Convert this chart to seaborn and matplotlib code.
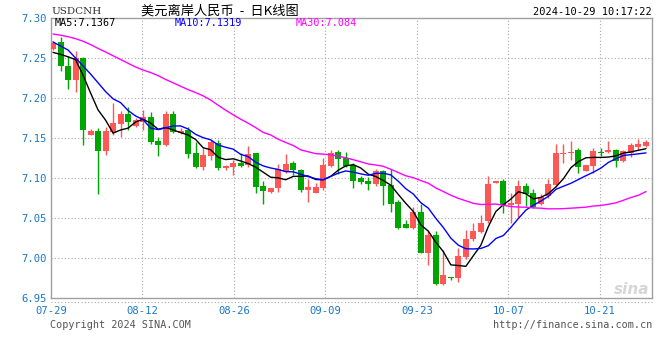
import numpy as np
import pandas as pd
import matplotlib
matplotlib.use('Agg')
import matplotlib.pyplot as plt
import seaborn as sns

# daily bars 07-29 .. 10-29 (sina forex feed, saturday sessions included)
open_ = [7.2616, 7.2700, 7.2400, 7.2225, 7.2500, 7.1538, 7.1588, 7.1341, 7.1579, 7.1675,
         7.1800, 7.1650, 7.1700, 7.1766, 7.1463, 7.1413, 7.1804, 7.1566, 7.1600, 7.1316,
         7.1134, 7.1275, 7.1441, 7.1121, 7.1141, 7.1191, 7.1163, 7.1309, 7.0900, 7.0821,
         7.0871, 7.1079, 7.1191, 7.1100, 7.0850, 7.0816, 7.0879, 7.1154, 7.1321, 7.1246,
         7.1163, 7.0996, 7.0966, 7.0929, 7.1091, 7.0913, 7.0704, 7.0425, 7.0371, 7.0579,
         7.0066, 7.0288, 6.9675, 6.9766, 6.9754, 7.0016, 7.0234, 7.0321, 7.0466, 7.0934,
         7.0963, 7.0663, 7.0675, 7.0900, 7.0816, 7.0675, 7.0775, 7.0913, 7.1300, 7.1309,
         7.1350, 7.1088, 7.1154, 7.1325, 7.1325, 7.1350, 7.1216, 7.1309, 7.1391, 7.1404]
high = [7.2712, 7.2766, 7.2525, 7.2584, 7.2509, 7.1616, 7.1625, 7.1641, 7.1938, 7.1841,
        7.1888, 7.1750, 7.1850, 7.1825, 7.1516, 7.1841, 7.1841, 7.1625, 7.1641, 7.1454,
        7.1371, 7.1475, 7.1475, 7.1159, 7.1225, 7.1316, 7.1400, 7.1316, 7.0963, 7.0871,
        7.1179, 7.1304, 7.1216, 7.1109, 7.0984, 7.0941, 7.1254, 7.1350, 7.1350, 7.1321,
        7.1184, 7.1021, 7.1016, 7.1113, 7.1100, 7.1113, 7.0725, 7.0475, 7.0641, 7.0675,
        7.0341, 7.0341, 7.0100, 6.9766, 7.0121, 7.0350, 7.0434, 7.0538, 7.1025, 7.0963,
        7.0984, 7.0809, 7.0975, 7.0941, 7.0859, 7.0800, 7.0984, 7.1425, 7.1425, 7.1459,
        7.1375, 7.1163, 7.1371, 7.1371, 7.1459, 7.1359, 7.1350, 7.1434, 7.1488, 7.1475]
low = [7.2600, 7.2341, 7.2113, 7.2079, 7.1416, 7.1538, 7.0804, 7.1288, 7.1538, 7.1516,
       7.1600, 7.1641, 7.1600, 7.1425, 7.1275, 7.1400, 7.1559, 7.1550, 7.1246, 7.1121,
       7.1100, 7.1225, 7.1100, 7.1100, 7.1038, 7.1134, 7.1141, 7.0816, 7.0675, 7.0809,
       7.0829, 7.1059, 7.1038, 7.0829, 7.0704, 7.0809, 7.0850, 7.1141, 7.1050, 7.1134,
       7.0879, 7.0929, 7.0850, 7.0904, 7.0663, 7.0579, 7.0359, 7.0375, 7.0359, 7.0066,
       6.9913, 6.9663, 6.9663, 6.9725, 6.9704, 6.9984, 7.0216, 7.0309, 7.0434, 7.0934,
       7.0559, 7.0441, 7.0509, 7.0650, 7.0621, 7.0663, 7.0746, 7.0884, 7.1184, 7.1225,
       7.1066, 7.1088, 7.1059, 7.1275, 7.1309, 7.1141, 7.1196, 7.1266, 7.1350, 7.1391]
close = [7.2691, 7.2404, 7.2225, 7.2500, 7.1604, 7.1584, 7.1341, 7.1588, 7.1688, 7.1800,
         7.1700, 7.1725, 7.1759, 7.1450, 7.1413, 7.1804, 7.1579, 7.1591, 7.1300, 7.1134,
         7.1288, 7.1454, 7.1121, 7.1154, 7.1184, 7.1150, 7.1296, 7.0891, 7.0841, 7.0871,
         7.1109, 7.1179, 7.1100, 7.0850, 7.0888, 7.0888, 7.1163, 7.1313, 7.1238, 7.1154,
         7.0966, 7.0954, 7.0929, 7.1088, 7.0904, 7.0679, 7.0371, 7.0375, 7.0579, 7.0066,
         7.0288, 6.9675, 6.9788, 6.9754, 7.0025, 7.0238, 7.0341, 7.0441, 7.0925, 7.0963,
         7.0663, 7.0691, 7.0900, 7.0800, 7.0641, 7.0759, 7.0925, 7.1316, 7.1316, 7.1329,
         7.1141, 7.1163, 7.1338, 7.1316, 7.1350, 7.1216, 7.1338, 7.1409, 7.1421, 7.1446]

# moving averages at the left edge (need bars before 07-29)
ma5_head = [7.2570, 7.2545, 7.2515, 7.2480]
ma10_head = [7.2700, 7.2650, 7.2600, 7.2500, 7.2400, 7.2300, 7.2190, 7.2080, 7.1990]
ma30_head = [7.2800, 7.2785, 7.2766, 7.2742, 7.2710, 7.2668, 7.2620, 7.2575, 7.2528, 7.2481,
             7.2434, 7.2387, 7.2350, 7.2318, 7.2280, 7.2232, 7.2190, 7.2147, 7.2105, 7.2068,
             7.2027, 7.1975, 7.1910, 7.1848, 7.1790, 7.1735, 7.1685, 7.1630, 7.1570]

date_labels = ['07-29', '08-12', '08-26', '09-09', '09-23', '10-07', '10-21']
y_ticks = [6.95, 7.00, 7.05, 7.10, 7.15, 7.20, 7.25, 7.30]
legend_text = ['MA5:7.1367', 'MA10:7.1319', 'MA30:7.084']

df = pd.DataFrame({'open': open_, 'high': high, 'low': low, 'close': close})
df['i'] = np.arange(len(df))
for n, head in [(5, ma5_head), (10, ma10_head), (30, ma30_head)]:
    ma = df['close'].rolling(n).mean()
    ma.iloc[:len(head)] = head
    df['ma%d' % n] = ma

sns.set_style('white')
plt.rcParams['font.family'] = ['DejaVu Sans Mono', 'Noto Sans CJK SC']

RED = '#ff5656'
GREEN = '#00a600'
TICK = '#1a78c8'
GRID = '#a8a8a8'

fig = plt.figure(figsize=(6.6, 3.6), dpi=100)
ax = fig.add_axes([51 / 660, 62 / 360, 601 / 660, 280 / 360])

up = df['close'] >= df['open']
colors = np.where(up, RED, GREEN)
body_lo = np.minimum(df['open'], df['close'])
body_h = np.maximum((df['close'] - df['open']).abs(), 0.0012)

ax.vlines(df['i'], df['low'], df['high'], colors=colors, lw=1, zorder=3)
ax.bar(df['i'], body_h, bottom=body_lo, width=0.8, color=colors, linewidth=0, zorder=4)

sns.lineplot(data=df, x='i', y='ma5', color='black', lw=1, ax=ax, zorder=5)
sns.lineplot(data=df, x='i', y='ma10', color='#0000ff', lw=1, ax=ax, zorder=5)
sns.lineplot(data=df, x='i', y='ma30', color='#ff00ff', lw=1, ax=ax, zorder=5)

x_left, x_right = -0.27, 79.8
ax.set_xlim(x_left, x_right)
ax.set_ylim(6.95, 7.30)

grid_step = 91.5 / 7.506
xt = [x_left + k * grid_step for k in range(len(date_labels))]
ax.set_xticks(xt)
ax.set_xticklabels(date_labels)
ax.set_yticks(y_ticks)
ax.set_yticklabels(['%.2f' % v for v in y_ticks])
ax.tick_params(axis='both', length=0, labelsize=7.6, colors=TICK)
ax.tick_params(axis='x', pad=6)
ax.tick_params(axis='y', pad=3)
ax.set_xlabel('')
ax.set_ylabel('')

for x in xt[1:]:
    ax.axvline(x, color=GRID, lw=0.8, ls=(0, (1, 2)), zorder=1)
for y in y_ticks[1:-1]:
    ax.axhline(y, color=GRID, lw=0.8, ls=(0, (1, 2)), zorder=1)

for s in ax.spines.values():
    s.set_color('#a0a0a0')
    s.set_linewidth(1)

# dotted rule under the axis
fig.add_artist(plt.Line2D([51 / 660, 652 / 660], [58 / 360, 58 / 360], color=GRID,
                          lw=0.8, ls=(0, (1, 2))))

# legend row inside the plot
for txt, col, px in zip(legend_text, ['black', '#0000ff', '#ff00ff'], [55, 175, 296]):
    fig.text(px / 660, 1 - 23 / 360, txt, color=col, fontsize=7.3, va='center', ha='left')

fig.text(51 / 660, 1 - 12 / 360, 'USDCNH', family='DejaVu Serif', fontsize=7.5,
         color='#333333', va='center', ha='left')
fig.text(141 / 660, 1 - 11 / 360, '美元离岸人民币  -  日K线图', family=['Noto Sans CJK SC', 'DejaVu Sans'],
         fontsize=9.5, color='black', va='center', ha='left')
fig.text(652 / 660, 1 - 12 / 360, '2024-10-29 10:17:22', fontsize=7.5, color='black',
         va='center', ha='right')
fig.text(50 / 660, 1 - 325 / 360, 'Copyright 2024 SINA.COM', fontsize=7.3, color='#555555',
         va='center', ha='left')
fig.text(652 / 660, 1 - 325 / 360, 'http://finance.sina.com.cn', fontsize=7.3, color='#555555',
         va='center', ha='right')
fig.text(649 / 660, 1 - 290 / 360, 'sina', family='DejaVu Sans', fontsize=11, style='italic',
         weight='bold', color='#d6d6d6', va='center', ha='right', zorder=0)

fig.savefig('out.png', dpi=100, facecolor='white')
